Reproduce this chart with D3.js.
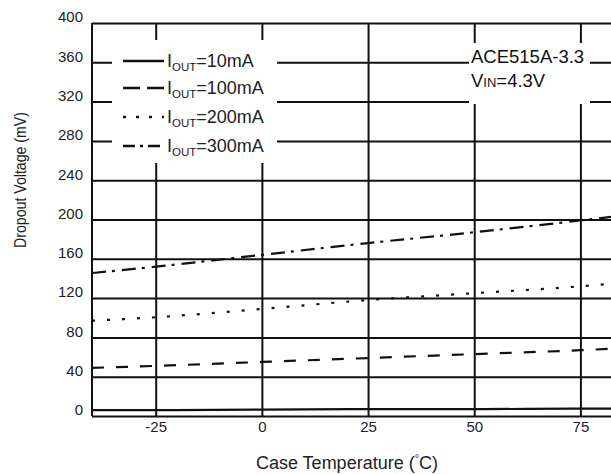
<!DOCTYPE html>
<html>
<head>
<meta charset="utf-8">
<script src="https://cdn.jsdelivr.net/npm/d3@7"></script>
<style>
	body { margin: 0; background: #fff; }
	svg { display: block; font-family: "Liberation Sans", Arial, sans-serif; }
	.tick text { fill: #222; font-size: 15px; }
	.domain { display: none; }
</style>
</head>
<body>
<svg width="611" height="474"></svg>
<script>
// values (mV)
const temps = [-40, -25, 0, 25, 50, 75, 85];
const iout10 = [6, 6, 6.5, 7, 7, 7.5, 7.5];
const iout100 = [49, 51, 55, 59, 63, 67, 69];
const iout200 = [97, 100.5, 109, 118, 125, 132, 135.5];
const iout300 = [145.5, 152, 164, 176, 187, 199, 204];
const seriesNames = ['10mA', '100mA', '200mA', '300mA'];
const xTicks = [-25, 0, 25, 50, 75];
const yTicks = [0, 40, 80, 120, 160, 200, 240, 280, 320, 360, 400];

const plotLeft = 92, plotTop = 23, plotBottom = 416, W = 611;

const svg = d3.select('svg');

const xScale = d3.scaleLinear().domain([-40, 85]).range([plotLeft, plotLeft + 125 * 4.247]);
const yScale = d3.scaleLinear().domain([0, 400]).range([plotBottom, plotTop]);

// horizontal grid + y labels (labels sit a bit above their lines, as in the datasheet)
let yAxis = svg.append('g')
	.attr('transform', `translate(${plotLeft},0)`)
	.call(d3.axisLeft(yScale).tickValues(yTicks).tickSize(-(W - plotLeft)).tickPadding(9));
yAxis.selectAll('line').attr('stroke', '#111').attr('stroke-width', 2);
yAxis.selectAll('text').attr('transform', 'translate(0,-6)');

// vertical grid + x labels
let xAxis = svg.append('g')
	.attr('transform', `translate(0,${plotBottom})`)
	.call(d3.axisBottom(xScale).tickValues(xTicks)
		.tickFormat(d => String(d))
		.tickSize(-(plotBottom - plotTop)).tickPadding(5));
xAxis.selectAll('line').attr('stroke', '#111').attr('stroke-width', 2);

// left border
svg.append('line')
	.attr('x1', xScale(-40)).attr('x2', xScale(-40))
	.attr('y1', plotTop).attr('y2', plotBottom)
	.attr('stroke', '#111').attr('stroke-width', 2);

// white boxes covering the grid behind legend & note
svg.append('rect').attr('x', 112).attr('y', 40).attr('width', 165).attr('height', 123).attr('fill', '#fff');
svg.append('rect').attr('x', 469).attr('y', 43).attr('width', 121).attr('height', 61).attr('fill', '#fff');

const dashes = ['none', '12,12', '3,12', '14,6,3,7'];
const legendDash = ['none', '17,7', '3,10', '12,5,3,5'];
const allSeries = [iout10, iout100, iout200, iout300];

const line = d3.line()
	.x((d, i) => xScale(temps[i]))
	.y(d => yScale(d))
	.curve(d3.curveMonotoneX);

svg.append('g')
	.selectAll('path')
	.data(allSeries)
	.enter()
	.append('path')
	.attr('d', line)
	.attr('fill', 'none')
	.attr('stroke', '#111')
	.attr('stroke-width', 2.2)
	.attr('stroke-dasharray', (d, i) => dashes[i]);

// legend
const rowsY = [61, 88, 117, 146];
let legend = svg.append('g').selectAll('g')
	.data(seriesNames)
	.enter()
	.append('g')
	.attr('transform', (d, i) => `translate(0,${rowsY[i]})`);

legend.append('line')
	.attr('x1', 123).attr('x2', 164)
	.attr('stroke', '#111')
	.attr('stroke-width', 2.5)
	.attr('stroke-dasharray', (d, i) => legendDash[i]);

let lt = legend.append('text')
	.attr('x', 167)
	.attr('y', 6)
	.attr('fill', '#222')
	.style('font-size', '18px');
lt.append('tspan').text('I');
lt.append('tspan').attr('dy', 4).style('font-size', '11.5px').text('OUT');
lt.append('tspan').attr('dy', -4).text(d => '=' + d);

// device note
svg.append('text')
	.attr('x', 471).attr('y', 63)
	.attr('fill', '#111')
	.style('font-size', '18.5px')
	.text('ACE515A-3.3');
let vin = svg.append('text')
	.attr('x', 471).attr('y', 87)
	.attr('fill', '#111')
	.style('font-size', '18.5px');
vin.append('tspan').text('V');
vin.append('tspan').style('font-size', '13px').text('IN');
vin.append('tspan').text('=4.3V');

// axis titles
svg.append('text')
	.attr('transform', 'translate(26,180) rotate(-90)')
	.attr('text-anchor', 'middle')
	.attr('fill', '#222')
	.attr('textLength', 136)
	.attr('lengthAdjust', 'spacingAndGlyphs')
	.style('font-size', '17px')
	.text('Dropout Voltage (mV)');

let xt = svg.append('text')
	.attr('x', 347).attr('y', 469)
	.attr('text-anchor', 'middle')
	.attr('fill', '#222')
	.style('font-size', '18px');
xt.append('tspan').text('Case Temperature (');
xt.append('tspan').attr('dy', -7).style('font-size', '11px').text('°');
xt.append('tspan').attr('dy', 7).text('C)');
</script>
</body>
</html>
